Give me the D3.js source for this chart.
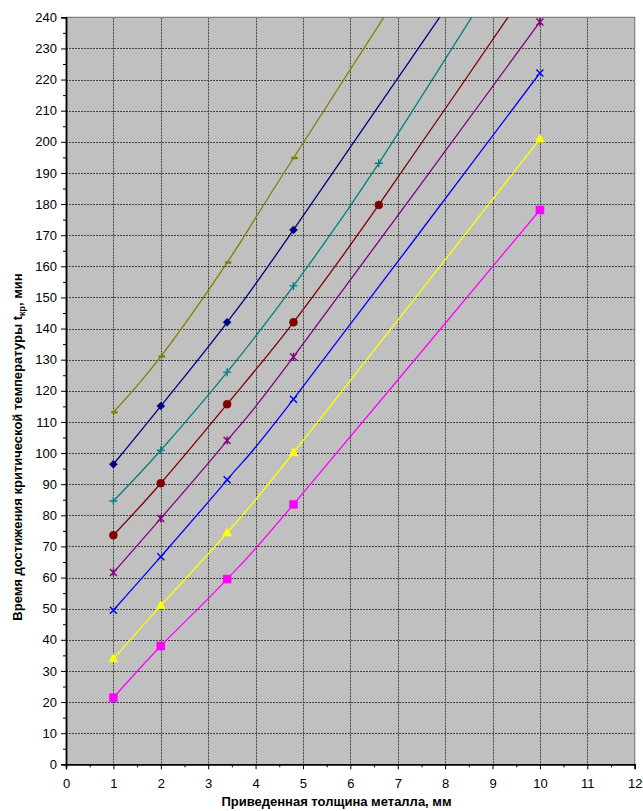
<!DOCTYPE html>
<html>
<head>
<meta charset="utf-8">
<script src="https://cdn.jsdelivr.net/npm/d3@7"></script>
<style>
  html, body { margin: 0; padding: 0; background: #fff; }
  svg { display: block; font-family: "Liberation Sans", Arial, sans-serif; }
</style>
</head>
<body>
<svg id="chart" width="643" height="811"></svg>
<script>
// Reduced metal thickness (mm) at which each curve is tabulated
const thickness = [1, 2, 3.4, 4.8, 6.6, 10];

// Time to critical temperature, min (null = not tabulated)
const olive   = [113.1, 131.0, 161.2, 194.8, null, 318];
const navy    = [96.4, 115.1, 142.0, 171.7, null, 287];
const teal    = [84.6, 100.9, 126.0, 153.7, 193.1, 275];
const darkRed = [73.6, 90.3, 115.7, 142.0, 179.7, 255];
const purple  = [61.6, 79.0, 104.0, 130.9, null, 238.5];
const blue    = [49.5, 66.7, 91.4, 117.3, null, 222.1];
const yellow  = [33.9, 51.0, 74.4, 100.1, null, 200.9];
const magenta = [21.4, 38.0, 59.5, 83.5, null, 178.1];

const xTicks = d3.range(0, 13, 1);
const yTicks = d3.range(0, 241, 10);

const seriesList = [
  { values: olive,   color: "#808000", marker: "dash" },
  { values: navy,    color: "#000080", marker: "diamond" },
  { values: teal,    color: "#008080", marker: "plus" },
  { values: darkRed, color: "#800000", marker: "circle" },
  { values: purple,  color: "#800080", marker: "star" },
  { values: blue,    color: "#0000FF", marker: "cross" },
  { values: yellow,  color: "#FFFF00", marker: "triangle" },
  { values: magenta, color: "#FF00FF", marker: "square" }
];

const svg = d3.select("#chart");
const plot = { left: 66, top: 17.3, right: 634.7, bottom: 764.3 };

const x = d3.scaleLinear().domain([0, 12]).range([plot.left, plot.right]);
const y = d3.scaleLinear().domain([0, 240]).range([plot.bottom, plot.top]);

// plot area background
svg.append("rect")
  .attr("x", plot.left).attr("y", plot.top)
  .attr("width", plot.right - plot.left).attr("height", plot.bottom - plot.top)
  .attr("fill", "#C0C0C0");

// grid
const grid = svg.append("g").attr("stroke", "#363636").attr("stroke-width", 1)
  .attr("stroke-dasharray", "2,1").attr("stroke-opacity", 0.9);
grid.selectAll("line.v").data(xTicks.slice(1, -1)).join("line")
  .attr("x1", d => Math.round(x(d)) + 0.5).attr("x2", d => Math.round(x(d)) + 0.5)
  .attr("y1", plot.top).attr("y2", plot.bottom);
grid.selectAll("line.h").data(yTicks.slice(1, -1)).join("line")
  .attr("y1", d => Math.round(y(d)) + 0.5).attr("y2", d => Math.round(y(d)) + 0.5)
  .attr("x1", plot.left).attr("x2", plot.right);

// plot frame (top and right)
svg.append("path")
  .attr("d", `M${plot.left},${plot.top}H${plot.right}V${plot.bottom}`)
  .attr("fill", "none").attr("stroke", "#808080").attr("stroke-width", 1.2);

// clip for curves
svg.append("clipPath").attr("id", "plotClip").append("rect")
  .attr("x", plot.left).attr("y", plot.top)
  .attr("width", plot.right - plot.left).attr("height", plot.bottom - plot.top);

const line = d3.line()
  .defined(d => d.v !== null)
  .x(d => x(d.t)).y(d => y(d.v))
  .curve(d3.curveCardinal.tension(0));

const curves = svg.append("g").attr("clip-path", "url(#plotClip)");

function markerPath(type) {
  switch (type) {
    case "dash": return "M-2,-1H4V1H-2Z";
    case "diamond": return "M0,-4L4,0L0,4L-4,0Z";
    case "plus": return "M-4,0H4M0,-4V4";
    case "circle": return d3.symbol(d3.symbolCircle, 50)();
    case "star": return "M-3.5,-3.5L3.5,3.5M-3.5,3.5L3.5,-3.5M0,-4V4";
    case "cross": return "M-3.5,-3.5L3.5,3.5M-3.5,3.5L3.5,-3.5";
    case "triangle": return "M0,-5L4.6,3.2H-4.6Z";
    case "square": return "M-4,-4H4V4H-4Z";
  }
}
const filled = { dash: true, diamond: true, circle: true, triangle: true, square: true };

seriesList.forEach(s => {
  const pts = thickness.map((t, i) => ({ t, v: s.values[i] })).filter(d => d.v !== null);
  curves.append("path")
    .datum(pts)
    .attr("d", line)
    .attr("fill", "none")
    .attr("stroke", s.color)
    .attr("stroke-width", 1.3);
  curves.selectAll(null)
    .data(pts.filter(d => d.v <= 240))
    .join("path")
    .attr("transform", d => `translate(${x(d.t)},${y(d.v)})`)
    .attr("d", markerPath(s.marker))
    .attr("fill", filled[s.marker] ? s.color : "none")
    .attr("stroke", s.color)
    .attr("stroke-width", filled[s.marker] ? 0.5 : 1.4);
});

// axes
const yAxis = svg.append("g").attr("transform", `translate(${plot.left},0)`)
  .call(d3.axisLeft(y).tickValues(yTicks).tickSize(5).tickPadding(4).tickFormat(d3.format("d")));
const yMinor = svg.append("g").attr("transform", `translate(${plot.left},0)`)
  .call(d3.axisLeft(y).tickValues(d3.range(5, 240, 10)).tickSize(3).tickFormat(""));
const xAxis = svg.append("g").attr("transform", `translate(0,${plot.bottom})`)
  .call(d3.axisBottom(x).tickValues(xTicks).tickSize(5).tickPadding(9).tickFormat(d3.format("d")));
const xMinor = svg.append("g").attr("transform", `translate(0,${plot.bottom})`)
  .call(d3.axisBottom(x).tickValues(d3.range(0.5, 12, 1)).tickSize(3).tickFormat(""));

[yAxis, yMinor, xAxis, xMinor].forEach(g => {
  g.attr("font-family", "'Liberation Sans', Arial, sans-serif");
  g.select(".domain").attr("stroke", "#000").attr("stroke-width", 1.5);
  g.selectAll(".tick line").attr("stroke", "#000");
  g.selectAll(".tick text").attr("font-size", 13).attr("fill", "#000");
});

// axis titles
svg.append("text")
  .attr("x", 336.5).attr("y", 806)
  .attr("text-anchor", "middle")
  .attr("font-size", 13).attr("font-weight", "bold")
  .text("Приведенная толщина металла, мм");

const yTitle = svg.append("text")
  .attr("transform", "translate(22,447) rotate(-90)")
  .attr("text-anchor", "middle")
  .attr("font-size", 13).attr("font-weight", "bold");
yTitle.append("tspan").text("Время достижения критической температуры t");
yTitle.append("tspan").attr("font-size", 9).attr("dy", 3).text("кр");
yTitle.append("tspan").attr("dy", -3).text(", мин");
</script>
</body>
</html>
